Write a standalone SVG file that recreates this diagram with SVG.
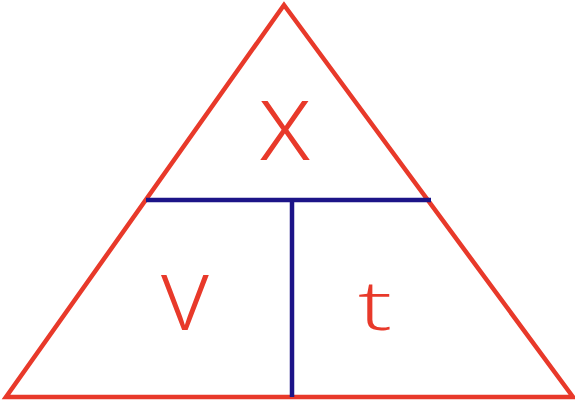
<svg xmlns="http://www.w3.org/2000/svg" width="575" height="406" viewBox="0 0 575 406">
<style>
.tri{fill:none;stroke:#e8392a;stroke-width:4.5;stroke-linejoin:miter}
.div{fill:none;stroke:#1c1488;stroke-width:4.5}
.lbl{fill:#e8392a;font-family:"Open Sans","Liberation Sans",Arial,sans-serif;font-weight:300;text-anchor:middle}
</style>
<rect width="575" height="406" fill="#ffffff"/>
<g id="triangle">
<polygon class="tri" points="284,5 6,397 573,397"/>
</g>
<g id="connectors">
<line class="div" x1="146" y1="200" x2="431" y2="200"/>
<line class="div" x1="292" y1="200" x2="292" y2="397"/>
</g>
<g id="node-x">
<text class="lbl" x="285" y="160" font-size="110">x</text>
</g>
<g id="node-v">
<text class="lbl" x="185" y="330" font-size="104">v</text>
</g>
<g id="node-t">
<text class="lbl" x="375" y="330" font-size="68" transform="translate(375 0) scale(1.5 1) translate(-375 0)">t</text>
</g>
</svg>
